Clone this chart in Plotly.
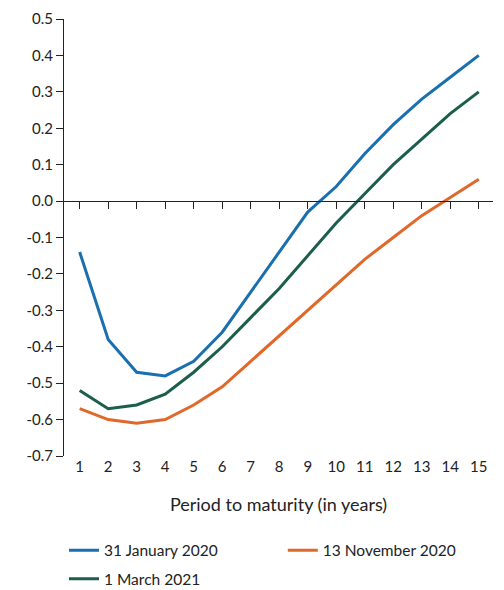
import plotly.graph_objects as go

years = list(range(1, 16))
jan2020 = [-0.14,-0.38,-0.47,-0.48,-0.44,-0.36,-0.25,-0.14,-0.03,0.04,0.13,0.21,0.28,0.34,0.40]
nov2020 = [-0.57,-0.60,-0.61,-0.60,-0.56,-0.51,-0.44,-0.37,-0.30,-0.23,-0.16,-0.10,-0.04,0.01,0.06]
mar2021 = [-0.52,-0.57,-0.56,-0.53,-0.47,-0.40,-0.32,-0.24,-0.15,-0.06,0.02,0.10,0.17,0.24,0.30]
yticks = [-0.7,-0.6,-0.5,-0.4,-0.3,-0.2,-0.1,0.0,0.1,0.2,0.3,0.4,0.5]

fig = go.Figure()
fig.add_trace(go.Scatter(x=years, y=jan2020, name="31 January 2020", mode="lines", line=dict(color="#1a6faf", width=3), legend="legend"))
fig.add_trace(go.Scatter(x=years, y=nov2020, name="13 November 2020", mode="lines", line=dict(color="#e0682a", width=3), legend="legend3"))
fig.add_trace(go.Scatter(x=years, y=mar2021, name="1 March 2021", mode="lines", line=dict(color="#1b5e4b", width=3), legend="legend2"))
fig.add_trace(go.Scatter(x=[years[0]], y=[0], xaxis="x2", showlegend=False, mode="markers", marker=dict(opacity=0), hoverinfo="skip"))

ymin, ymax = -0.7, 0.5
xr = [0.45, 15.5]
leg = dict(orientation="h", xanchor="left", yanchor="top", font=dict(size=15.5))
fig.update_layout(
    width=504, height=590, plot_bgcolor="white", paper_bgcolor="white",
    margin=dict(l=56, r=19, t=11, b=142, autoexpand=False),
    font=dict(family="Lato, Noto Sans, sans-serif", size=15, color="#222"),
    xaxis=dict(range=xr, tickvals=years, showline=False, showgrid=False, zeroline=False,
               ticks="", title=dict(text="Period to maturity (in years)", standoff=24)),
    xaxis2=dict(range=xr, overlaying="x", anchor="free", position=(0 - ymin) / (ymax - ymin),
                tickvals=years, showticklabels=False, ticks="outside", ticklen=7, tickcolor="#222",
                showline=True, linecolor="#222", linewidth=1, showgrid=False, zeroline=False),
    yaxis=dict(range=[ymin, ymax], tickvals=yticks, ticktext=[f"{v:.1f}" for v in yticks],
               showgrid=False, zeroline=False,
               showline=True, linecolor="#222", ticks="outside", ticklen=7, tickcolor="#222"),
    legend=dict(leg, x=0.0, y=-0.178),
    legend3=dict(leg, x=0.51, y=-0.178),
    legend2=dict(leg, x=0.0, y=-0.243),
)
fig.write_html("out.html")
